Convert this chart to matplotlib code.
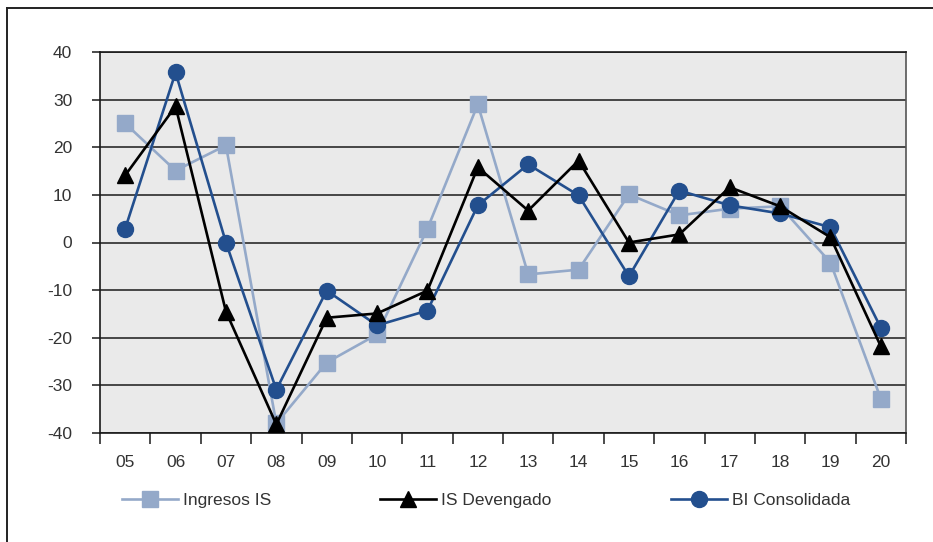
import matplotlib
matplotlib.use("Agg")
import matplotlib.pyplot as plt
from matplotlib.lines import Line2D
import numpy as np

plt.rcParams['font.family'] = ['Liberation Sans', 'DejaVu Sans']

years = ["05", "06", "07", "08", "09", "10", "11", "12",
         "13", "14", "15", "16", "17", "18", "19", "20"]
ingresos_is = [25.0, 15.1, 20.4, -38.0, -25.2, -19.3, 2.9, 29.0,
               -6.7, -5.7, 10.1, 5.7, 7.1, 7.6, -4.2, -32.8]
is_devengado = [14.1, 28.6, -14.5, -38.2, -15.8, -14.9, -10.1, 15.8,
                6.7, 17.2, 0.0, 1.7, 11.6, 7.6, 1.1, -21.8]
bi_consolidada = [2.9, 35.7, 0.0, -30.9, -10.1, -17.4, -14.3, 7.8,
                  16.4, 9.9, -7.1, 10.9, 7.8, 6.1, 3.2, -17.9]
series_names = ["Ingresos IS", "IS Devengado", "BI Consolidada"]
y_ticks = [-40, -30, -20, -10, 0, 10, 20, 30, 40]

c_light = "#94A9C9"
c_dark = "#234F8E"
c_black = "#000000"
txt = "#333333"

fig = plt.figure(figsize=(9.33, 5.42), dpi=100)
ax = fig.add_axes([100/933, 1 - 433/542, 806/933, 381/542])
ax.set_facecolor("#EAEAEA")

x = np.arange(len(years)) + 0.5
lw = 1.9
l1, = ax.plot(x, ingresos_is, color=c_light, lw=lw, marker="s", ms=11,
              mec=c_light, mfc=c_light, label=series_names[0], zorder=3)
l3, = ax.plot(x, bi_consolidada, color=c_dark, lw=lw, marker="o", ms=11.5,
              mec=c_dark, mfc=c_dark, label=series_names[2], zorder=4)
l2, = ax.plot(x, is_devengado, color=c_black, lw=lw, marker="^", ms=12,
              mec=c_black, mfc=c_black, label=series_names[1], zorder=5)

ax.set_xlim(0, len(years))
ax.set_ylim(-40, 40)

# horizontal gridlines
for v in y_ticks:
    ax.axhline(v, color="#1a1a1a", lw=1.1, zorder=1)

ax.set_yticks(y_ticks)
ax.set_yticklabels([str(v) for v in y_ticks])
ax.tick_params(axis="y", direction="out", length=6, width=1.1, color="#1a1a1a",
               pad=14, labelsize=12.5, labelcolor=txt)

# category labels centered, tick marks on boundaries
ax.set_xticks(x)
ax.set_xticklabels(years)
ax.set_xticks(np.arange(len(years) + 1), minor=True)
ax.tick_params(axis="x", which="major", length=0, pad=16, labelsize=12.5,
               labelcolor=txt)
ax.tick_params(axis="x", which="minor", direction="out", length=8, width=1.1,
               color="#1a1a1a")

for side in ["left", "bottom", "top"]:
    ax.spines[side].set_color("#1a1a1a")
    ax.spines[side].set_linewidth(1.2)
ax.spines["right"].set_color("#555555")
ax.spines["right"].set_linewidth(1.2)

# legend entries below the plot
handles = [l1, l2, l3]
lefts = [122, 380, 671]
for h, left in zip(handles, lefts):
    fig.legend(handles=[h], labels=[h.get_label()], loc="center left",
               bbox_to_anchor=(left/933, 1 - 500/542), frameon=False,
               borderpad=0, borderaxespad=0, handlelength=3.2,
               handletextpad=0.3, fontsize=12.5, labelcolor=txt)

# outer frame (left and top edges)
fig.add_artist(Line2D([7.5/933, 7.5/933], [0, 1 - 7.5/542],
                      transform=fig.transFigure, color="#222222", lw=1.4))
fig.add_artist(Line2D([7.5/933, 1], [1 - 7.5/542, 1 - 7.5/542],
                      transform=fig.transFigure, color="#222222", lw=1.4))

fig.savefig("out.png", dpi=100)
